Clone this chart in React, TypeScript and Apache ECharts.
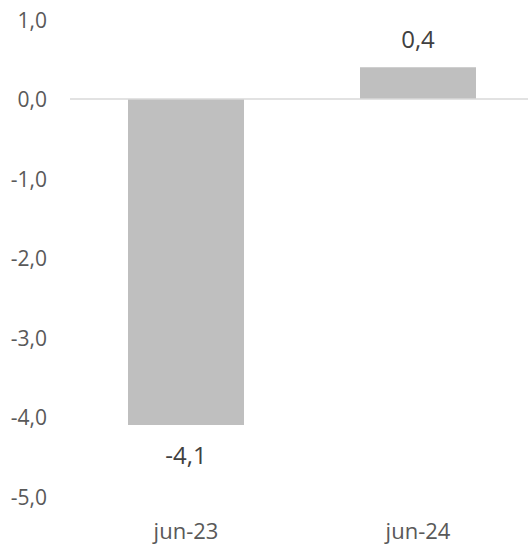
import React, { useEffect, useRef } from "react";
import * as echarts from "echarts";

const categories = ["jun-23", "jun-24"];
const values = [-4.1, 0.4];
const yMin = -5;
const yMax = 1;
const yInterval = 1;

const fmt = (v: number) => v.toFixed(1).replace(".", ",");

export default function App() {
  const ref = useRef<HTMLDivElement>(null);
  useEffect(() => {
    if (!ref.current) return;
    const chart = echarts.init(ref.current, null, { renderer: "svg" });
    const font = "'Open Sans', sans-serif";
    chart.setOption({
      animation: false,
      backgroundColor: "#ffffff",
      grid: {
        left: 70,
        width: 464,
        top: 19.5,
        bottom: 48.5,
        containLabel: false,
        outerBoundsMode: "none",
      },
      xAxis: {
        type: "category",
        data: categories,
        axisLine: { show: false },
        axisTick: { show: false },
        axisLabel: {
          color: "#595959",
          fontSize: 22,
          lineHeight: 26,
          fontFamily: font,
          margin: 20,
        },
        splitLine: { show: false },
      },
      yAxis: {
        type: "value",
        min: yMin,
        max: yMax,
        interval: yInterval,
        axisLine: { show: false },
        axisTick: { show: false },
        splitLine: { show: false },
        axisLabel: {
          color: "#595959",
          fontSize: 21,
          fontFamily: font,
          margin: 23,
          formatter: (v: number) => fmt(v),
        },
      },
      series: [
        {
          type: "bar",
          barWidth: "50%",
          itemStyle: { color: "#bfbfbf" },
          data: values.map((v) => ({
            value: v,
            label: {
              show: true,
              position: v < 0 ? "bottom" : "top",
              distance: v < 0 ? 18 : 17,
              color: "#404040",
              fontSize: 24,
              fontFamily: font,
              formatter: () => fmt(v),
            },
          })),
          markLine: {
            silent: true,
            symbol: ["none", "none"],
            label: { show: false },
            lineStyle: { color: "#d9d9d9", width: 1.5, type: "solid" },
            data: [{ yAxis: 0 }],
          },
        },
      ],
    });
    return () => chart.dispose();
  }, []);
  return (
    <div
      ref={ref}
      style={{ position: "fixed", left: 0, top: 0, width: 528, height: 545 }}
    />
  );
}
